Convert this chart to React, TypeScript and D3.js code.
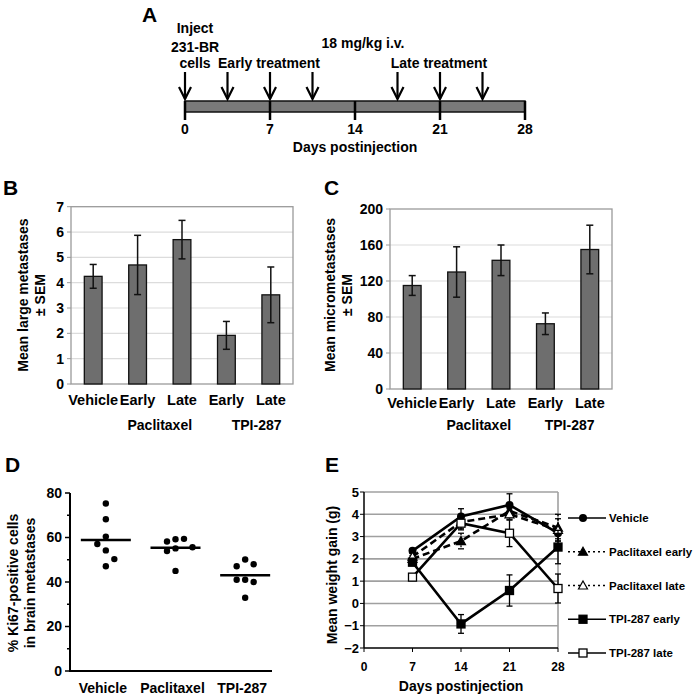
import React from "react";
import * as d3 from "d3";

// ---- data ----
const timelineDays = [0, 7, 14, 21, 28];
const arrowDays = [0, 3.5, 7, 10.5, 17.5, 21, 24.5];

const barLabels = ["Vehicle", "Early", "Late", "Early", "Late"];
const barGroups = ["Paclitaxel", "TPI-287"];
const largeMeans = [4.25, 4.7, 5.7, 1.92, 3.52];
const largeSem = [0.47, 1.17, 0.76, 0.55, 1.1];
const largeTicks = [0, 1, 2, 3, 4, 5, 6, 7];
const microMeans = [115, 130, 143, 72.5, 155];
const microSem = [11, 28, 17, 12, 27];
const microTicks = [0, 40, 80, 120, 160, 200];

const ki67Groups = ["Vehicle", "Paclitaxel", "TPI-287"];
const ki67Vehicle = [75.3, 68.2, 60.4, 57.1, 54.2, 50.3, 47.1];
const ki67Paclitaxel = [59.2, 58.2, 59.4, 55.1, 53.9, 55.6, 45];
const ki67Tpi = [50.1, 41, 47.1, 40, 48, 41, 32.9];
const ki67Means = [58.9, 55.4, 43];
const ki67Ticks = [0, 20, 40, 60, 80];

const weightDays = [7, 14, 21, 28];
const weightTicksX = [0, 7, 14, 21, 28];
const weightTicksY = [-2, -1, 0, 1, 2, 3, 4, 5];
const seriesNames = ["Vehicle", "Paclitaxel early", "Paclitaxel late", "TPI-287 early", "TPI-287 late"];
const vehicleGain = [2.36, 3.9, 4.42, 3.15];
const vehicleErr = [0.1, 0.35, 0.5, 0.25];
const paclitaxelEarlyGain = [2.0, 2.8, 4.15, 3.4];
const paclitaxelEarlyErr = [0.15, 0.35, 0.3, 0.6];
const paclitaxelLateGain = [2.1, 3.65, 4.0, 3.3];
const paclitaxelLateErr = [0.15, 0.3, 0.25, 0.5];
const tpiEarlyGain = [1.85, -0.92, 0.58, 2.53];
const tpiEarlyErr = [0.15, 0.42, 0.7, 0.75];
const tpiLateGain = [1.18, 3.6, 3.15, 0.67];
const tpiLateErr = [0.1, 0.3, 0.6, 0.65];

const FONT = "'Liberation Sans', Arial, sans-serif";

// spread overlapping dots sideways into columns
function dodge(values: number[], y: (v: number) => number, minGap = 9) {
  const placed: { y: number; col: number }[] = [];
  let side = -1;
  return values.map((v) => {
    const py = y(v);
    const free = (c: number) => placed.every((p) => p.col !== c || Math.abs(p.y - py) >= minGap);
    let col = 0;
    if (!free(0)) {
      const order = [side, -side, 2 * side, -2 * side];
      col = order.find(free) ?? 0;
      side = -side;
    }
    placed.push({ y: py, col });
    return col;
  });
}

const Letter = ({ x, y, t }: { x: number; y: number; t: string }) => (
  <text x={x} y={y} fontSize={21} fontWeight="bold">{t}</text>
);

const YLabel = ({ x, y, t, size = 14 }: { x: number; y: number; t: string; size?: number }) => (
  <text transform={`translate(${x},${y}) rotate(-90)`} textAnchor="middle" dy="0.35em" fontSize={size} fontWeight="bold">{t}</text>
);

// ---- panel A ----
const Timeline = () => {
  const x = d3.scaleLinear().domain([0, 28]).range([185, 525]);
  const top = 101, bot = 112;
  return (
    <g>
      <Letter x={142} y={22} t="A" />
      <rect x={x(0)} y={top} width={x(28) - x(0)} height={bot - top} fill="#7a7a7a" stroke="#111" strokeWidth={1.5} />
      {timelineDays.map((d) => (
        <g key={d}>
          <line x1={x(d)} x2={x(d)} y1={top} y2={120} stroke="#000" strokeWidth={2.5} />
          <text x={x(d)} y={134} textAnchor="middle" fontSize={14} fontWeight="bold">{d}</text>
        </g>
      ))}
      {arrowDays.map((d) => (
        <g key={d} stroke="#000" strokeWidth={2.2} fill="none">
          <line x1={x(d)} x2={x(d)} y1={72} y2={99} />
          <path d={`M${x(d) - 6},${87} L${x(d)},${99} L${x(d) + 6},${87}`} />
        </g>
      ))}
      <text x={x(14)} y={152} textAnchor="middle" fontSize={14} fontWeight="bold">Days postinjection</text>
      <g fontSize={14} fontWeight="bold" textAnchor="middle">
        <text x={195} y={33}>Inject</text>
        <text x={195} y={52}>231-BR</text>
        <text x={195} y={68}>cells</text>
        <text x={269} y={68}>Early treatment</text>
        <text x={363} y={48}>18 mg/kg i.v.</text>
        <text x={439} y={68}>Late treatment</text>
      </g>
    </g>
  );
};

// ---- panels B and C ----
interface BarProps {
  left: number; right: number; top: number; bottom: number;
  means: number[]; sem: number[]; ticks: number[];
  letter: string; lx: number; label1: string; label2: string; l1x: number; l2x: number;
  catY: number; grpShift: number;
}
const BarPanel = (p: BarProps) => {
  const x = d3.scaleBand<number>().domain(d3.range(p.means.length)).range([p.left, p.right]);
  const y = d3.scaleLinear().domain([0, p.ticks[p.ticks.length - 1]]).range([p.bottom, p.top]);
  const bw = x.bandwidth() * 0.4;
  const cx = (i: number) => (x(i) ?? 0) + x.bandwidth() / 2;
  return (
    <g>
      <Letter x={p.lx} y={195} t={p.letter} />
      {p.ticks.slice(1, -1).map((t) => (
        <line key={t} x1={p.left} x2={p.right} y1={y(t)} y2={y(t)} stroke="#dcdcdc" strokeWidth={1.2} />
      ))}
      <rect x={p.left} y={p.top} width={p.right - p.left} height={p.bottom - p.top} fill="none" stroke="#9a9a9a" strokeWidth={1.3} />
      {p.ticks.map((t) => (
        <g key={t}>
          <line x1={p.left - 4} x2={p.left} y1={y(t)} y2={y(t)} stroke="#9a9a9a" />
          <text x={p.left - 7} y={y(t)} dy="0.35em" textAnchor="end" fontSize={14} fontWeight="bold">{t}</text>
        </g>
      ))}
      {p.means.map((m, i) => (
        <g key={i}>
          <rect x={cx(i) - bw / 2} y={y(m)} width={bw} height={y(0) - y(m)} fill="#6e6e6e" stroke="#111" strokeWidth={1.3} />
          <g stroke="#111" strokeWidth={1.5}>
            <line x1={cx(i)} x2={cx(i)} y1={y(m + p.sem[i])} y2={y(m - p.sem[i])} />
            <line x1={cx(i) - 3.5} x2={cx(i) + 3.5} y1={y(m + p.sem[i])} y2={y(m + p.sem[i])} />
            <line x1={cx(i) - 3.5} x2={cx(i) + 3.5} y1={y(m - p.sem[i])} y2={y(m - p.sem[i])} />
          </g>
          <text x={cx(i)} y={p.catY} textAnchor="middle" fontSize={14.5} fontWeight="bold">{barLabels[i]}</text>
        </g>
      ))}
      {barGroups.map((g, k) => (
        <text key={g} x={(cx(1 + 2 * k) + cx(2 + 2 * k)) / 2 + k * p.grpShift} y={430} textAnchor="middle" fontSize={14} fontWeight="bold">{g}</text>
      ))}
      <YLabel x={p.l1x} y={295} t={p.label1} />
      <YLabel x={p.l2x} y={295} t={p.label2} />
    </g>
  );
};

// ---- panel D ----
const DotPanel = () => {
  const y = d3.scaleLinear().domain([0, 80]).range([671, 493]);
  const x = d3.scaleBand<string>().domain(ki67Groups).range([71, 280]);
  const cx = (g: string) => (x(g) ?? 0) + x.bandwidth() / 2;
  const groups = [ki67Vehicle, ki67Paclitaxel, ki67Tpi];
  return (
    <g>
      <Letter x={5} y={472} t="D" />
      <line x1={70} x2={70} y1={y(0)} y2={y(80)} stroke="#000" strokeWidth={2} />
      <line x1={69} x2={272} y1={y(0)} y2={y(0)} stroke="#000" strokeWidth={2} />
      {d3.range(0, 81, 10).map((t) => (
        <line key={t} x1={t % 20 === 0 ? 65 : 67} x2={70} y1={y(t)} y2={y(t)} stroke="#000" strokeWidth={1.5} />
      ))}
      {ki67Ticks.map((t) => (
        <text key={t} x={62} y={y(t)} dy="0.35em" textAnchor="end" fontSize={14} fontWeight="bold">{t}</text>
      ))}
      {groups.map((vals, gi) => {
        const g = ki67Groups[gi];
        const cols = dodge(vals, y);
        return (
          <g key={g}>
            {vals.map((v, i) => (
              <circle key={i} cx={cx(g) + cols[i] * 8.5} cy={y(v)} r={3.2} fill="#000" />
            ))}
            <line x1={cx(g) - 25} x2={cx(g) + 25} y1={y(ki67Means[gi])} y2={y(ki67Means[gi])} stroke="#000" strokeWidth={2.5} />
            <text x={cx(g) - 3} y={693} textAnchor="middle" fontSize={14} fontWeight="bold">{g}</text>
          </g>
        );
      })}
      <YLabel x={13} y={583} t="% Ki67-positive cells" />
      <YLabel x={30} y={583} t="in brain metastases" />
    </g>
  );
};

// ---- panel E ----
const Marker = ({ kind, x, y }: { kind: number; x: number; y: number }) => {
  if (kind === 0) return <circle cx={x} cy={y} r={4} fill="#000" />;
  if (kind === 1 || kind === 2) {
    return <path d={`M${x},${y - 4.5} L${x + 4.5},${y + 3.5} L${x - 4.5},${y + 3.5}Z`} fill={kind === 1 ? "#000" : "#fff"} stroke="#000" strokeWidth={1.2} />;
  }
  return <rect x={x - 4} y={y - 4} width={8} height={8} fill={kind === 3 ? "#000" : "#fff"} stroke="#000" strokeWidth={1.3} />;
};

const LinePanel = () => {
  const x = d3.scaleLinear().domain([0, 28]).range([364, 558]);
  const y = d3.scaleLinear().domain([-2, 5]).range([648, 492]);
  const series = [
    { v: vehicleGain, e: vehicleErr, dash: undefined },
    { v: paclitaxelEarlyGain, e: paclitaxelEarlyErr, dash: "7,4" },
    { v: paclitaxelLateGain, e: paclitaxelLateErr, dash: "7,4" },
    { v: tpiEarlyGain, e: tpiEarlyErr, dash: undefined },
    { v: tpiLateGain, e: tpiLateErr, dash: undefined },
  ];
  const line = d3.line<number>().x((_, i) => x(weightDays[i])).y((d) => y(d));
  const legendY = d3.scaleLinear().domain([0, seriesNames.length - 1]).range([518, 653]);
  return (
    <g>
      <Letter x={325} y={472} t="E" />
      {weightTicksY.slice(1).map((t) => (
        <line key={t} x1={x(0)} x2={x(28)} y1={y(t)} y2={y(t)} stroke="#a0a0a0" strokeWidth={1.6} />
      ))}
      <line x1={x(28)} x2={x(28)} y1={y(5)} y2={y(-2)} stroke="#a0a0a0" strokeWidth={1.6} />
      <line x1={x(0)} x2={x(0)} y1={y(5)} y2={y(-2)} stroke="#000" strokeWidth={1.5} />
      <line x1={x(0)} x2={x(28)} y1={y(-2)} y2={y(-2)} stroke="#000" strokeWidth={1.5} />
      {weightTicksY.map((t) => (
        <g key={t}>
          <line x1={x(0) - 4} x2={x(0)} y1={y(t)} y2={y(t)} stroke="#000" />
          <text x={359} y={y(t)} dy="0.35em" textAnchor="end" fontSize={13} fontWeight="bold">{t < 0 ? `\u2212${-t}` : t}</text>
        </g>
      ))}
      {weightTicksX.map((t) => (
        <g key={t}>
          <line x1={x(t)} x2={x(t)} y1={y(-2)} y2={y(-2) + 4} stroke="#000" />
          <text x={x(t)} y={671} textAnchor="middle" fontSize={12} fontWeight="bold">{t}</text>
        </g>
      ))}
      <text x={x(14)} y={691} textAnchor="middle" fontSize={14} fontWeight="bold">Days postinjection</text>
      <YLabel x={332} y={575} t="Mean weight gain (g)" />
      {series.map((s, k) => (
        <g key={k}>
          {s.v.map((v, i) => (
            <line key={i} x1={x(weightDays[i])} x2={x(weightDays[i])} y1={y(v + s.e[i])} y2={y(v - s.e[i])} stroke="#000" strokeWidth={1.3} strokeDasharray={s.dash ? "2,2" : undefined} />
          ))}
          {s.v.map((v, i) => (
            <g key={"c" + i} stroke="#000" strokeWidth={1.3}>
              <line x1={x(weightDays[i]) - 3} x2={x(weightDays[i]) + 3} y1={y(v + s.e[i])} y2={y(v + s.e[i])} />
              <line x1={x(weightDays[i]) - 3} x2={x(weightDays[i]) + 3} y1={y(v - s.e[i])} y2={y(v - s.e[i])} />
            </g>
          ))}
          <path d={line(s.v) ?? ""} fill="none" stroke="#000" strokeWidth={2.6} strokeDasharray={s.dash} />
          {s.v.map((v, i) => <Marker key={"m" + i} kind={k} x={x(weightDays[i])} y={y(v)} />)}
        </g>
      ))}
      {seriesNames.map((n, k) => (
        <g key={n}>
          <line x1={568} x2={606} y1={legendY(k)} y2={legendY(k)} stroke="#000" strokeWidth={1.3} strokeDasharray={k === 1 || k === 2 ? "2,3" : undefined} />
          <Marker kind={k} x={583} y={legendY(k)} />
          <text x={609} y={legendY(k)} dy="0.35em" fontSize={11.5} fontWeight="bold">{n}</text>
        </g>
      ))}
    </g>
  );
};

export default function App() {
  return (
    <svg width={696} height={699} viewBox="0 0 696 699" style={{ position: "absolute", left: 0, top: 0, background: "#fff" }} fontFamily={FONT}>
      <rect width={696} height={699} fill="#fff" />
      <Timeline />
      <BarPanel left={71} right={293} top={206.7} bottom={384} means={largeMeans} sem={largeSem} ticks={largeTicks}
        letter="B" lx={3} label1="Mean large metastases" label2="± SEM" l1x={23} l2x={40} catY={405} grpShift={8} />
      <BarPanel left={390} right={612} top={209} bottom={389} means={microMeans} sem={microSem} ticks={microTicks}
        letter="C" lx={324} label1="Mean micrometastases" label2="± SEM" l1x={330} l2x={347} catY={408} grpShift={2} />
      <DotPanel />
      <LinePanel />
    </svg>
  );
}
